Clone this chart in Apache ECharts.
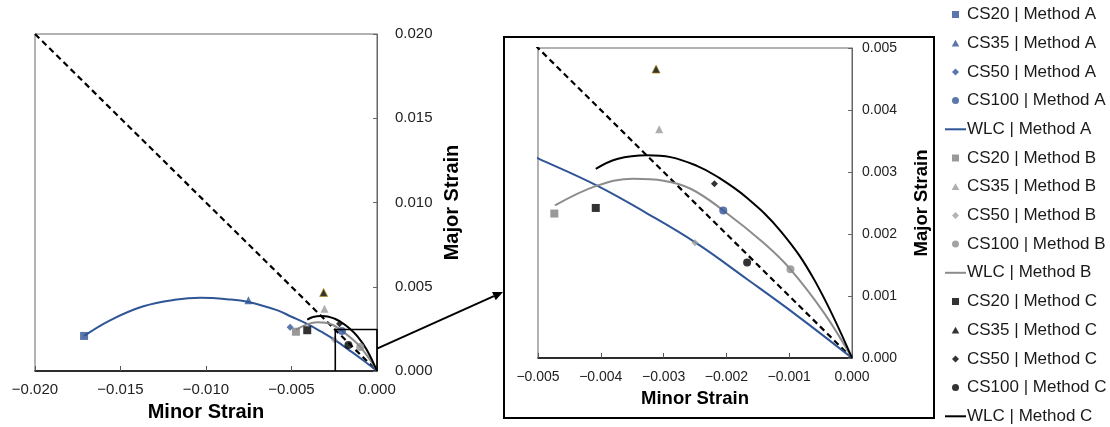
<!DOCTYPE html>
<html>
<head>
<meta charset="utf-8">
<script src="https://cdn.jsdelivr.net/npm/echarts@6/dist/echarts.min.js"></script>
<style>
html,body{margin:0;padding:0;background:#fff;}
#c{width:1110px;height:427px;}
</style>
</head>
<body>
<div id="c"></div>
<script>
// ---------- DATA ----------
const methods = ['Method A', 'Method B', 'Method C'];
const specimens = ['CS20', 'CS35', 'CS50', 'CS100'];

// measured points [minor, major] per specimen (CS20, CS35, CS50, CS100)
const pointsA = [[-0.01713, 0.00208], [-0.00752, 0.00420], [-0.00508, 0.00259], [-0.00205, 0.00238]];
const pointsB = [[-0.00474, 0.00233], [-0.00307, 0.00369], [-0.00250, 0.00186], [-0.00098, 0.00143]];
const pointsC = [[-0.00408, 0.00242], [-0.00312, 0.00466], [-0.00219, 0.00281], [-0.00167, 0.00154]];

// WLC curves [minor, major]
const wlcA = [[-0.01713, 0.00208], [-0.01561, 0.00301], [-0.01366, 0.00384], [-0.01171, 0.00424],
  [-0.01034, 0.00434], [-0.00878, 0.00426], [-0.00752, 0.00410], [-0.00585, 0.00361],
  [-0.00500, 0.00322], [-0.00406, 0.00278], [-0.00326, 0.00233], [-0.00249, 0.00186],
  [-0.00167, 0.00127], [-0.00087, 0.00068], [0, 0]];
const wlcB = [[-0.00473, 0.00246], [-0.00406, 0.00278], [-0.00348, 0.00289], [-0.00300, 0.00286],
  [-0.00257, 0.00273], [-0.00205, 0.00238], [-0.00140, 0.00185], [-0.00098, 0.00143],
  [-0.00044, 0.00072], [0, 0]];
const wlcC = [[-0.00408, 0.00305], [-0.00374, 0.00321], [-0.00326, 0.00327], [-0.00289, 0.00324],
  [-0.00247, 0.00310], [-0.00217, 0.00294], [-0.00167, 0.00258], [-0.00113, 0.00204],
  [-0.00060, 0.00126], [0, 0]];

// equal-strain reference line
const refLine = [[-0.020, 0.020], [0, 0]];
// zoom window marked on the main plot [minor, major] corners
const zoomBox = [[-0.00244, 0], [-0.00244, 0.00246], [0, 0.00246], [0, 0]];
// arrow start on the main plot (minor, major)
const arrowStart = [0, 0.00133];

// axis ranges and tick steps
const mainXRange = [-0.020, 0.000], mainXStep = 0.005;
const mainYRange = [0.000, 0.020], mainYStep = 0.005;
const insetXRange = [-0.005, 0.000], insetXStep = 0.001;
const insetYRange = [0.000, 0.005], insetYStep = 0.001;

// ---------- STYLE ----------
const FONT = 'Liberation Sans, Arial, sans-serif';
const methodColors = {
  'Method A': ['#2F5597', '#2F5597', '#2F5597', '#2F5597', '#2F5597'],
  'Method B': ['#808080', '#9A9A9A', '#A0A0A0', '#8C8C8C', '#8C8C8C'],
  'Method C': ['#000000', '#000000', '#000000', '#000000', '#000000']
};
const symbols = ['rect', 'triangle', 'diamond', 'circle'];
const symSizes = [8, 8, 7, 8];
// legend icons drawn in a 21x10 box (extent moves keep the box size)
const EXT = 'M0,0 M21,10 ';
const legendIcons = [
  'path://' + EXT + 'M7,1.5 L14,1.5 L14,8.5 L7,8.5 Z',
  'path://' + EXT + 'M10.5,1.5 L14.3,8.3 L6.7,8.3 Z',
  'path://' + EXT + 'M10.5,1.5 L14,5 L10.5,8.5 L7,5 Z',
  'path://' + EXT + 'M7,5 A3.5,3.5 0 1,0 14,5 A3.5,3.5 0 1,0 7,5 Z'
];
const lineIcon = 'path://' + EXT + 'M0,4 L21,4 L21,6 L0,6 Z';

const pointsByMethod = {'Method A': pointsA, 'Method B': pointsB, 'Method C': pointsC};
const wlcByMethod = {'Method A': wlcA, 'Method B': wlcB, 'Method C': wlcC};

function fmt(v) {
  const s = Math.abs(v).toFixed(3);
  return (v < -1e-12 ? '\u2212' : '') + s;
}

const legendData = [];
const series = [];
[0, 1].forEach(function (g) {
  series.push({
    type: 'line', xAxisIndex: g, yAxisIndex: g, data: refLine, symbol: 'none',
    lineStyle: {color: '#000', width: 2.2, type: [6, 4]}, z: 2, silent: true, clip: true
  });
});
methods.forEach(function (m) {
  const cols = methodColors[m];
  specimens.forEach(function (s, i) {
    const name = s + ' | ' + m;
    legendData.push({name: name, icon: legendIcons[i], itemStyle: {color: cols[i], borderWidth: 0}});
    [0, 1].forEach(function (g) {
      const style = {color: cols[i]};
      if (m === 'Method C' && s === 'CS35') { style.borderColor = '#B8900A'; style.borderWidth = 0.8; }
      series.push({
        name: name, type: 'scatter', xAxisIndex: g, yAxisIndex: g,
        data: [pointsByMethod[m][i]], symbol: symbols[i], symbolSize: symSizes[i],
        itemStyle: style, z: 4, clip: true
      });
    });
  });
  const wname = 'WLC | ' + m;
  legendData.push({name: wname, icon: lineIcon, itemStyle: {color: cols[4], borderWidth: 0}});
  [0, 1].forEach(function (g) {
    series.push({
      name: wname, type: 'line', xAxisIndex: g, yAxisIndex: g, data: wlcByMethod[m],
      symbol: 'none', smooth: 0.4, lineStyle: {color: cols[4], width: 2},
      itemStyle: {color: cols[4]}, z: 3, clip: true
    });
  });
});
// zoom box on main plot
series.push({
  type: 'line', xAxisIndex: 0, yAxisIndex: 0, data: zoomBox, symbol: 'none',
  lineStyle: {color: '#000', width: 1.6}, z: 5, silent: true, clip: false
});

function xAxisCfg(g, range, step, fs, nameFs) {
  return {
    type: 'value', gridIndex: g, min: range[0], max: range[1], interval: step,
    name: 'Minor Strain', nameLocation: 'middle', nameGap: 31,
    nameTextStyle: {fontFamily: FONT, fontSize: nameFs, fontWeight: 'bold', color: '#000'},
    axisLine: {show: true, lineStyle: {color: '#000', width: 1.5}, onZero: false},
    axisTick: {show: true, inside: true, length: 5, lineStyle: {color: '#555'}},
    axisLabel: {fontFamily: FONT, fontSize: fs, color: '#222', margin: g === 0 ? 11 : 12, formatter: fmt},
    splitLine: {show: false}
  };
}
function yAxisCfg(g, range, step, fs, nameFs, gap, margin) {
  return {
    type: 'value', gridIndex: g, position: 'right', min: range[0], max: range[1], interval: step,
    name: 'Major Strain', nameLocation: 'middle', nameRotate: 90, nameGap: gap,
    nameTextStyle: {fontFamily: FONT, fontSize: nameFs, fontWeight: 'bold', color: '#000'},
    axisLine: {show: true, lineStyle: {color: '#666', width: 1}, onZero: false},
    axisTick: {show: true, inside: true, length: 4, lineStyle: {color: '#666'}},
    axisLabel: {fontFamily: FONT, fontSize: fs, color: '#222', margin: margin, formatter: fmt},
    splitLine: {show: false}
  };
}

const option = {
  backgroundColor: '#fff',
  animation: false,
  grid: [
    {left: 35, top: 34, width: 342, height: 337, show: true, borderColor: '#666', borderWidth: 1},
    {left: 538, top: 48, width: 314, height: 310, show: true, borderColor: '#666', borderWidth: 1}
  ],
  xAxis: [xAxisCfg(0, mainXRange, mainXStep, 15, 20), xAxisCfg(1, insetXRange, insetXStep, 14, 18.5)],
  yAxis: [yAxisCfg(0, mainYRange, mainYStep, 15, 20, 65, 18), yAxisCfg(1, insetYRange, insetYStep, 14, 18.5, 60, 10)],
  legend: {
    orient: 'vertical', left: 945, top: 6, padding: 0, itemWidth: 21, itemHeight: 10, itemGap: 11.7,
    data: legendData, selectedMode: false,
    textStyle: {fontFamily: FONT, fontSize: 17, color: '#1a1a1a', padding: [0, 0, 0, -4]}
  },
  series: series
};

const chart = echarts.init(document.getElementById('c'), null, {renderer: 'canvas'});
chart.setOption(option);

// inset frame and connecting arrow (annotations)
const p0 = chart.convertToPixel({gridIndex: 0}, arrowStart);
const frame = {x: 504, y: 37, w: 430, h: 381};
const p1 = [frame.x - 1, 292];
const ang = Math.atan2(p1[1] - p0[1], p1[0] - p0[0]);
const ah = 10, aw = 4.5;
const base = [p1[0] - ah * Math.cos(ang), p1[1] - ah * Math.sin(ang)];
chart.setOption({
  graphic: [
    {type: 'rect', shape: {x: frame.x, y: frame.y, width: frame.w, height: frame.h},
      style: {fill: null, stroke: '#000', lineWidth: 2}, z: 100},
    {type: 'line', shape: {x1: p0[0], y1: p0[1], x2: base[0], y2: base[1]},
      style: {stroke: '#000', lineWidth: 2}, z: 100},
    {type: 'polygon', shape: {points: [
      p1,
      [base[0] + aw * Math.sin(ang), base[1] - aw * Math.cos(ang)],
      [base[0] - aw * Math.sin(ang), base[1] + aw * Math.cos(ang)]
    ]}, style: {fill: '#000'}, z: 100}
  ]
});
</script>
</body>
</html>
